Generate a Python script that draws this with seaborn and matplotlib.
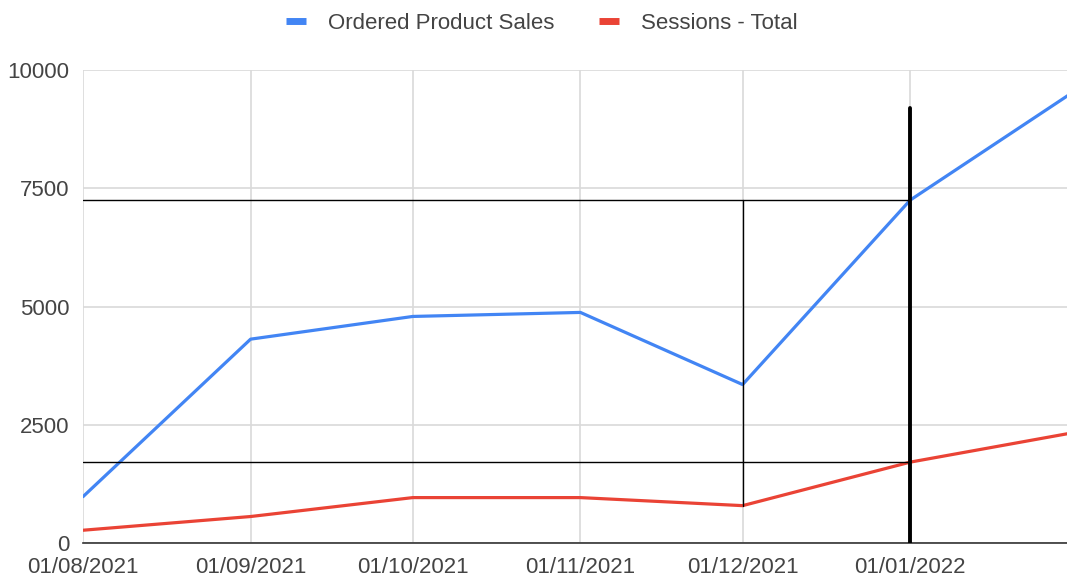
import pandas as pd
import numpy as np
import matplotlib.pyplot as plt
import matplotlib.dates as mdates
import seaborn as sns
from matplotlib.lines import Line2D

# monthly values
months = ['2021-08-01', '2021-09-01', '2021-10-01', '2021-11-01',
          '2021-12-01', '2022-01-01', '2022-02-01']
sales = [980, 4310, 4790, 4875, 3350, 7250, 9600]
sessions = [270, 560, 960, 960, 790, 1710, 2350]

# annotation guide lines
mark_level_sales = 7250
mark_level_sessions = 1710
thick_line_top = 9200

df = pd.DataFrame({
    'date': pd.to_datetime(months * 2),
    'value': sales + sessions,
    'series': ['Ordered Product Sales'] * len(months) + ['Sessions - Total'] * len(months),
})

sns.set_style('white')
plt.rcParams['font.family'] = ['Liberation Sans', 'DejaVu Sans']

fig = plt.figure(figsize=(10.67, 5.83), dpi=100)
ax = fig.add_axes([0.0778, 0.0686, 0.9222, 0.8113])

palette = {'Ordered Product Sales': '#4285F4', 'Sessions - Total': '#EA4335'}
sns.lineplot(data=df, x='date', y='value', hue='series', palette=palette,
             linewidth=2.3, ax=ax, legend=False, zorder=3)

start = pd.Timestamp(months[0])
ax.set_xlim(start, start + pd.Timedelta(days=182))
ax.set_ylim(0, 10000)
ax.set_yticks([0, 2500, 5000, 7500, 10000])
ax.xaxis.set_major_locator(mdates.MonthLocator())
ax.xaxis.set_major_formatter(mdates.DateFormatter('%d/%m/%Y'))

ax.grid(True, color='#d9d9d9', linewidth=1.2, zorder=0)
for s in ['top', 'right', 'left']:
    ax.spines[s].set_visible(False)
ax.spines['bottom'].set_color('#333333')
ax.spines['bottom'].set_linewidth(1.2)
ax.tick_params(axis='both', length=0, labelsize=16, labelcolor='#444444')
ax.tick_params(axis='x', pad=10)
ax.tick_params(axis='y', pad=10)
ax.set_xlabel('')
ax.set_ylabel('')

# guide lines
dec = pd.Timestamp('2021-12-01')
jan = pd.Timestamp('2022-01-01')
ax.plot([start, jan], [mark_level_sales] * 2, color='black', linewidth=1, zorder=4)
ax.plot([start, jan], [mark_level_sessions] * 2, color='black', linewidth=1, zorder=4)
ax.plot([dec, dec], [mark_level_sessions - 920, mark_level_sales], color='black', linewidth=1, zorder=4)
ax.plot([jan, jan], [0, thick_line_top], color='black', linewidth=2.8, zorder=5)

# legend
handles = [Line2D([0], [0], color=c, linewidth=5, solid_capstyle='butt') for c in palette.values()]
fig.legend(handles, list(palette.keys()), loc='upper center', bbox_to_anchor=(0.508, 1.012),
           ncol=2, frameon=False, fontsize=16, handlelength=0.9, handletextpad=1.0,
           columnspacing=2.0, labelcolor='#444444')

fig.savefig('out.png', dpi=100)
